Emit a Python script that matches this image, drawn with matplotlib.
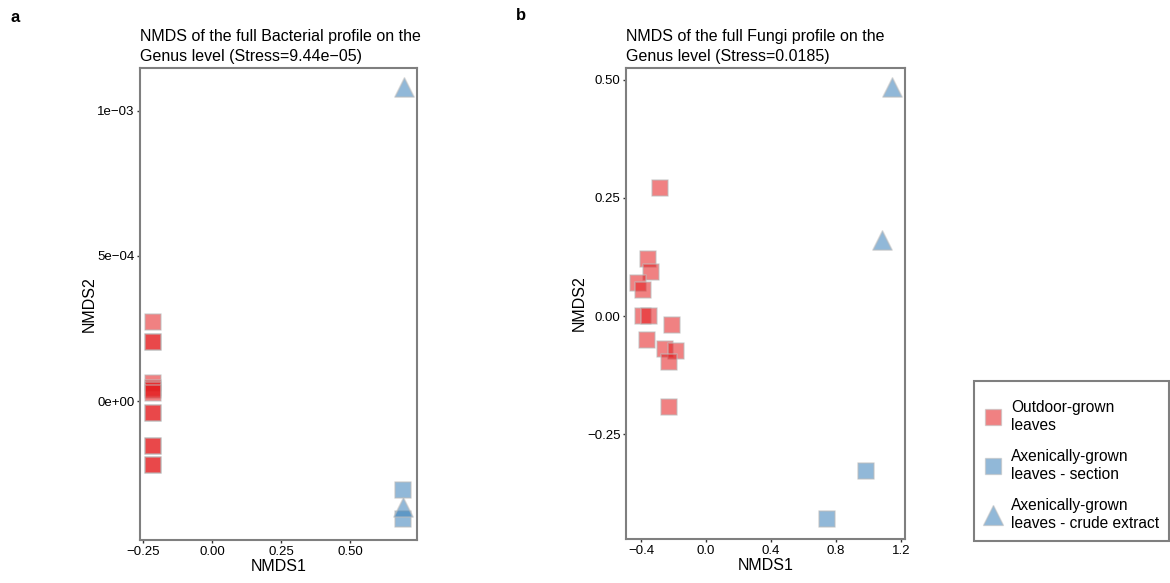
import matplotlib
matplotlib.use('Agg')
import matplotlib.pyplot as plt
from matplotlib.lines import Line2D
from matplotlib.patches import Rectangle

plt.rcParams['font.family'] = ['Liberation Sans', 'DejaVu Sans']

# panel a: bacterial NMDS (genus level)
a_out_x = [-0.215] * 13
a_out_y = [2.71e-4, 2.02e-4, 2.02e-4, 6.2e-5, 4.5e-5, 3.8e-5, 2.8e-5,
           -4.0e-5, -4.0e-5, -1.54e-4, -1.54e-4, -2.2e-4, -2.2e-4]
a_sec_x = [0.692, 0.692]
a_sec_y = [-3.05e-4, -4.07e-4]
a_crude_x = [0.696, 0.692]
a_crude_y = [1.083e-3, -3.64e-4]

# panel b: fungal NMDS (genus level)
b_out_x = [-0.283, -0.355, -0.340, -0.417, -0.386, -0.386, -0.349,
           -0.365, -0.211, -0.252, -0.187, -0.228, -0.228]
b_out_y = [0.270, 0.121, 0.093, 0.069, 0.055, 0.000, -0.001,
           -0.051, -0.020, -0.070, -0.074, -0.097, -0.193]
b_sec_x = [0.985, 0.747]
b_sec_y = [-0.328, -0.429]
b_crude_x = [1.085, 1.147]
b_crude_y = [0.161, 0.485]

groups = ['Outdoor-grown\nleaves',
          'Axenically-grown\nleaves - section',
          'Axenically-grown\nleaves - crude extract']

RED = '#E41A1C'
BLUE = '#377EB8'
EDGE = '#bdbdbd'
SPINE = '#7f7f7f'

W, H = 1170, 583
fig = plt.figure(figsize=(W / 100, H / 100), dpi=100)


def px_axes(x0, y0, x1, y1):
    return fig.add_axes([x0 / W, 1 - y1 / H, (x1 - x0) / W, (y1 - y0) / H])


def draw(ax, ox, oy, sx, sy, cx, cy):
    kw = dict(alpha=0.55, edgecolors=EDGE, linewidths=1.2)
    ax.scatter(ox, oy, marker='s', s=120, c=RED, **kw)
    ax.scatter(sx, sy, marker='s', s=120, c=BLUE, **kw)
    ax.scatter(cx, cy, marker='^', s=190, c=BLUE, **kw)
    for sp in ax.spines.values():
        sp.set_color(SPINE)
        sp.set_linewidth(1.5)
    ax.tick_params(direction='out', length=2.5, width=1, color='#333333',
                   labelsize=9.5, labelcolor='black', pad=1.5)
    ax.set_xlabel('NMDS1', fontsize=11.5, labelpad=1)
    ax.set_ylabel('NMDS2', fontsize=11.5, labelpad=0)


ax_a = px_axes(140, 68, 417, 540)
draw(ax_a, a_out_x, a_out_y, a_sec_x, a_sec_y, a_crude_x, a_crude_y)
ax_a.set_xlim(-0.261, 0.743)
ax_a.set_ylim(-4.79e-4, 1.148e-3)
ax_a.set_xticks([-0.25, 0.0, 0.25, 0.5])
ax_a.set_xticklabels(['\u22120.25', '0.00', '0.25', '0.50'])
ax_a.set_yticks([0.0, 5e-4, 1e-3])
ax_a.set_yticklabels(['0e+00', '5e\u221204', '1e\u221203'])
ax_a.set_title('NMDS of the full Bacterial profile on the\n'
               'Genus level (Stress=9.44e\u221205)',
               loc='left', fontsize=11.5, pad=5, linespacing=1.4)

ax_b = px_axes(626, 68, 905, 539)
draw(ax_b, b_out_x, b_out_y, b_sec_x, b_sec_y, b_crude_x, b_crude_y)
ax_b.set_xlim(-0.492, 1.225)
ax_b.set_ylim(-0.472, 0.525)
ax_b.set_xticks([-0.4, 0.0, 0.4, 0.8, 1.2])
ax_b.set_xticklabels(['\u22120.4', '0.0', '0.4', '0.8', '1.2'])
ax_b.set_yticks([-0.25, 0.0, 0.25, 0.5])
ax_b.set_yticklabels(['\u22120.25', '0.00', '0.25', '0.50'])
ax_b.set_title('NMDS of the full Fungi profile on the\n'
               'Genus level (Stress=0.0185)',
               loc='left', fontsize=11.5, pad=5, linespacing=1.4)

fig.text(10 / W, 1 - 18 / H, 'a', fontsize=12, fontweight='bold', va='center')
fig.text(516 / W, 1 - 15 / H, 'b', fontsize=12, fontweight='bold', va='center')

# legend box drawn by hand so the padding matches
fig.patches.append(Rectangle((974 / W, 1 - 541 / H), 195 / W, 160 / H,
                             transform=fig.transFigure, fill=False,
                             edgecolor=SPINE, linewidth=1.5))
handles = [
    Line2D([0], [0], ls='none', marker='s', markersize=11, color=RED,
           alpha=0.55, markeredgecolor=EDGE),
    Line2D([0], [0], ls='none', marker='s', markersize=11, color=BLUE,
           alpha=0.55, markeredgecolor=EDGE),
    Line2D([0], [0], ls='none', marker='^', markersize=14, color=BLUE,
           alpha=0.55, markeredgecolor=EDGE),
]
leg = fig.legend(handles, groups, loc='upper left',
                 bbox_to_anchor=(983 / W, 1 - 400 / H), fontsize=11.2,
                 frameon=False, borderaxespad=0, borderpad=0,
                 handletextpad=0.5, handlelength=1.3, labelspacing=1.02)
for t in leg.get_texts():
    t.set_linespacing(1.25)

fig.savefig('out.png', dpi=100, facecolor='white')
